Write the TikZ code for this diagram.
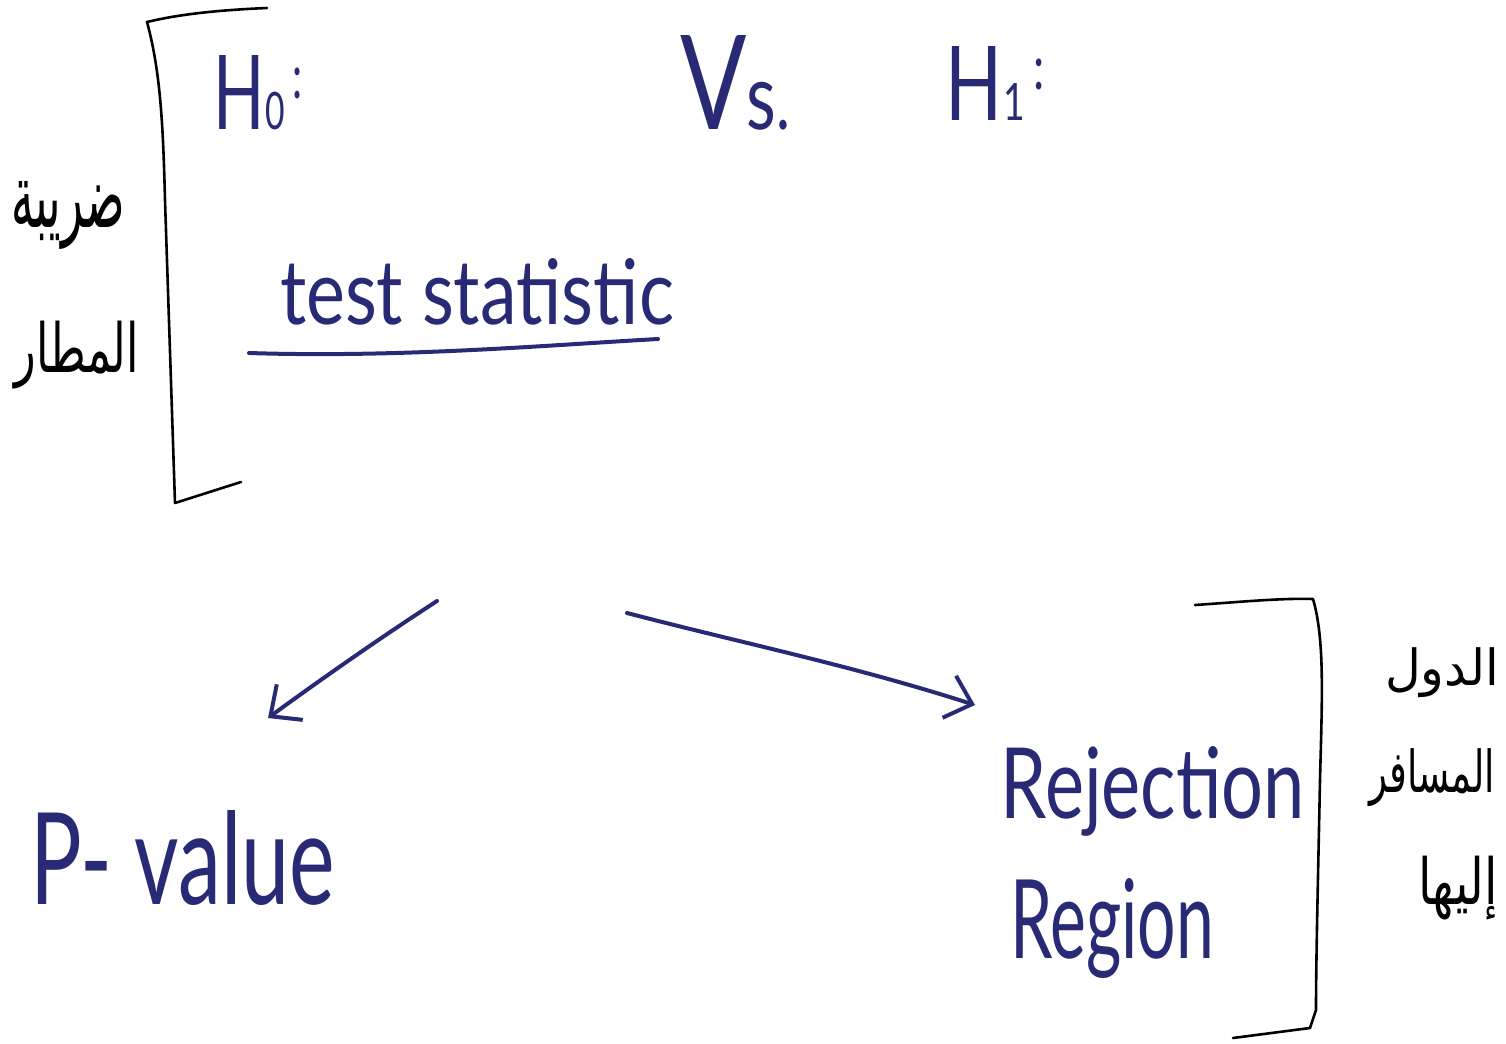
\documentclass[tikz,border=0pt]{standalone}
\usepackage{fontspec}
\setmainfont{Lato}
\newfontfamily\arabicfont[Script=Arabic]{DejaVu Sans}
\TeXXeTstate=1
\usetikzlibrary{arrows.meta}
\definecolor{ink}{RGB}{40,42,118}
\begin{document}
\begin{tikzpicture}[x=0.5pt,y=-0.5pt,
  hand/.style={text=ink, inner sep=0pt, anchor=center},
  brk/.style={draw=black, line width=1.3pt, line cap=round, line join=round},
  inkline/.style={draw=ink, line width=2pt, line cap=round},
  arr/.style={inkline, -{Straight Barb[length=12pt,width=22pt,line width=2pt]}},
  arab/.style={text=black, inner sep=0pt, anchor=center}]
\useasboundingbox (0,0) rectangle (1506,1044);
% hypotheses
\node[hand] (h0) at (258,93) {\resizebox{45pt}{37pt}{\fontsize{52}{60}\selectfont H\kern1pt\scalebox{0.5}{0}\kern6pt\raisebox{0.3em}{\scalebox{0.6}{:}}}};
\node[hand] (vs) at (735,83) {\resizebox{55pt}{47pt}{\fontsize{56}{64}\selectfont V\scalebox{0.7}{s}\scalebox{0.6}{.}}};
\node[hand] (h1) at (995,83) {\resizebox{50pt}{37pt}{\fontsize{52}{60}\selectfont H\kern1pt\scalebox{0.5}{1}\kern6pt\raisebox{0.3em}{\scalebox{0.6}{:}}}};
% test statistic
\node[hand] (ts) at (477,292) {\resizebox{197pt}{33pt}{\fontsize{40}{48}\selectfont test statistic}};
\coordinate (ul1) at (249,353);
\coordinate (ul2) at (658,339);
\draw[inkline] (ul1) .. controls (400,358) and (550,345) .. (ul2);
% arrows
\coordinate (a1s) at (437,601);
\coordinate (a1e) at (268,718);
\coordinate (a2s) at (627,613);
\coordinate (a2e) at (975,705);
\draw[arr] (a1s) .. controls (380,638) and (320,680) .. (a1e);
\draw[arr] (a2s) .. controls (750,645) and (850,665) .. (a2e);
% outcomes
\node[hand] (pv) at (183,858) {\resizebox{152pt}{47pt}{\fontsize{40}{48}\selectfont P- value}};
\node[hand] (rej) at (1153,791) {\resizebox{152pt}{36pt}{\fontsize{40}{48}\selectfont Rejection}};
\node[hand] (reg) at (1112,928) {\resizebox*{102pt}{50pt}{\fontsize{40}{48}\selectfont Region}};
% brackets
\coordinate (lb1) at (267,8);
\coordinate (lb2) at (147,22);
\coordinate (lb3) at (175,503);
\coordinate (lb4) at (241,482);
\draw[brk] (lb1) .. controls (220,10) and (180,14) .. (lb2) .. controls (160,70) and (163,120) .. (165,200) -- (lb3) -- (lb4);
\coordinate (rb1) at (1195,605);
\coordinate (rb2) at (1313,599);
\coordinate (rb3) at (1310,1028);
\coordinate (rb4) at (1233,1038);
\draw[brk] (rb1) .. controls (1240,602) and (1280,598) .. (rb2) .. controls (1325,640) and (1322,700) .. (1320,780) .. controls (1318,880) and (1316,960) .. (1316,1010) -- (rb3) -- (rb4);
% arabic labels
\node[arab] (l1) at (68,215) {\resizebox*{57pt}{34pt}{\arabicfont\fontsize{30}{36}\selectfont\beginR ضريبة\endR}};
\node[arab] (l2) at (77,355) {\resizebox*{62pt}{34pt}{\arabicfont\fontsize{30}{36}\selectfont\beginR المطار\endR}};
\node[arab] (r1) at (1442,673) {\resizebox*{57pt}{25pt}{\arabicfont\fontsize{30}{36}\selectfont\beginR الدول\endR}};
\node[arab] (r2) at (1432,778) {\resizebox*{63pt}{29pt}{\arabicfont\fontsize{30}{36}\selectfont\beginR المسافر\endR}};
\node[arab] (r3) at (1458,888) {\resizebox*{40pt}{32pt}{\arabicfont\fontsize{30}{36}\selectfont\beginR إليها\endR}};
\end{tikzpicture}
\end{document}
